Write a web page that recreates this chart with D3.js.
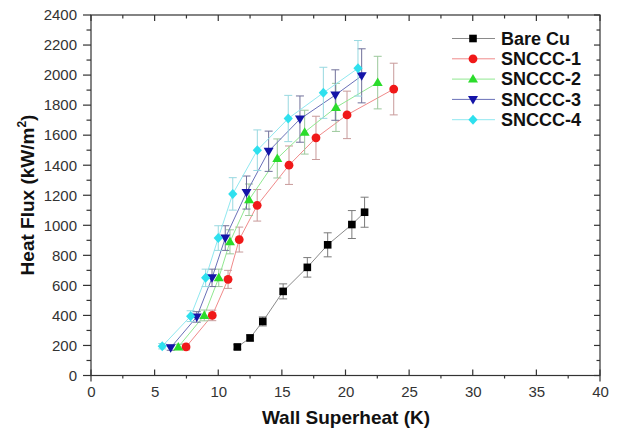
<!DOCTYPE html>
<html><head><meta charset="utf-8">
<script src="https://cdn.jsdelivr.net/npm/d3@7"></script>
<style>body{margin:0;background:#fff;}svg{display:block;}</style>
</head><body>
<svg id="c" width="617" height="430"></svg>
<script>
const seriesNames = ["Bare Cu", "SNCCC-1", "SNCCC-2", "SNCCC-3", "SNCCC-4"];
const bareX = [11.5, 12.5, 13.5, 15.1, 17.0, 18.6, 20.5, 21.5];
const bareY = [190, 250, 360, 560, 720, 870, 1005, 1087];
const bareErr = [15, 20, 30, 50, 65, 80, 93, 100];
const s1X = [7.47, 9.53, 10.77, 11.65, 13.06, 15.56, 17.68, 20.12, 23.79];
const s1Y = [190, 400, 640, 905, 1133, 1400, 1582, 1735, 1907];
const s1Err = [20, 35, 60, 83, 105, 128, 144, 158, 172];
const s2X = [6.86, 8.9, 10.04, 10.92, 12.42, 14.64, 16.79, 19.25, 22.53];
const s2Y = [190, 400, 650, 890, 1170, 1445, 1620, 1785, 1950];
const s2Err = [18, 36, 58, 80, 105, 130, 146, 160, 175];
const s3X = [6.26, 8.31, 9.51, 10.55, 12.22, 13.96, 16.42, 19.2, 21.27];
const s3Y = [185, 390, 650, 915, 1218, 1493, 1707, 1867, 1995];
const s3Err = [17, 35, 58, 82, 110, 134, 154, 168, 180];
const s4X = [5.6, 7.83, 9.01, 10.0, 11.14, 13.07, 15.5, 18.26, 20.98];
const s4Y = [195, 395, 650, 915, 1209, 1500, 1711, 1882, 2045];
const s4Err = [18, 36, 58, 82, 108, 135, 154, 170, 185];
const xTicks = [0, 5, 10, 15, 20, 25, 30, 35, 40];
const yTicks = [0, 200, 400, 600, 800, 1000, 1200, 1400, 1600, 1800, 2000, 2200, 2400];

const markerColors = ["#000000", "#f01818", "#2bdc2b", "#1414a8", "#2ee0ee"];
const lineColors = ["#8a8a8a", "#f08a8a", "#90e890", "#6a70b8", "#90e8f0"];
const errColors = ["#7a7a7a", "#c89a9a", "#9cc89c", "#70709a", "#98d8e0"];
const shapes = ["square", "circle", "triangle", "down", "diamond"];

const allSeries = [
  {x: bareX, y: bareY, e: bareErr},
  {x: s1X, y: s1Y, e: s1Err},
  {x: s2X, y: s2Y, e: s2Err},
  {x: s3X, y: s3Y, e: s3Err},
  {x: s4X, y: s4Y, e: s4Err}
];

const svg = d3.select("#c");
const L = 91, R = 600, T = 15, B = 375.5;
const x = d3.scaleLinear().domain([0, 40]).range([L, R]);
const y = d3.scaleLinear().domain([0, 2400]).range([B, T]);
const font = "'Liberation Sans', Arial, sans-serif";

// frame
const ax = svg.append("g").attr("stroke", "#333").attr("stroke-width", 1.2).attr("fill", "none");
ax.append("rect").attr("x", L).attr("y", T).attr("width", R - L).attr("height", B - T);

const xMinor = d3.range(0, 40.01, 2.5);
xMinor.forEach(v => {
  const major = v % 5 === 0;
  const px = x(v);
  if (major) {
    ax.append("line").attr("x1", px).attr("x2", px).attr("y1", B).attr("y2", B - 6);
    ax.append("line").attr("x1", px).attr("x2", px).attr("y1", T).attr("y2", T + 6);
  } else {
    ax.append("line").attr("x1", px).attr("x2", px).attr("y1", B).attr("y2", B + 3);
    ax.append("line").attr("x1", px).attr("x2", px).attr("y1", T).attr("y2", T + 3.5);
  }
});
ax.append("line").attr("x1", L).attr("x2", L).attr("y1", B).attr("y2", B + 6);
ax.append("line").attr("x1", R).attr("x2", R).attr("y1", B).attr("y2", B + 6);

const yMinor = d3.range(0, 2401, 100);
yMinor.forEach(v => {
  const major = v % 200 === 0;
  const py = y(v);
  ax.append("line").attr("x1", L).attr("x2", L - (major ? 8 : 4.5)).attr("y1", py).attr("y2", py);
  ax.append("line").attr("x1", R).attr("x2", R - (major ? 6 : 3.5)).attr("y1", py).attr("y2", py);
});

const xAxis = d3.axisBottom(x).tickValues(xTicks).tickSize(0).tickPadding(11).tickFormat(d3.format("d"));
const gx = svg.append("g").attr("transform", `translate(0,${B})`).call(xAxis);
gx.select(".domain").remove();
gx.selectAll("text").attr("font-family", font).attr("font-size", 15).attr("fill", "#333");

const yAxis = d3.axisLeft(y).tickValues(yTicks).tickSize(0).tickPadding(14).tickFormat(d3.format("d"));
const gy = svg.append("g").attr("transform", `translate(${L},0)`).call(yAxis);
gy.select(".domain").remove();
gy.selectAll("text").attr("font-family", font).attr("font-size", 15).attr("fill", "#333");

svg.append("text").attr("x", 346).attr("y", 424).attr("text-anchor", "middle")
  .attr("font-family", font).attr("font-weight", "bold").attr("font-size", 19).attr("fill", "#111")
  .text("Wall Superheat (K)");
const yt = svg.append("text").attr("transform", "translate(34,195) rotate(-90)").attr("text-anchor", "middle")
  .attr("font-family", font).attr("font-weight", "bold").attr("font-size", 19).attr("fill", "#111");
yt.append("tspan").text("Heat Flux (kW/m");
yt.append("tspan").attr("font-size", 12).attr("dy", -8).text("2");
yt.append("tspan").attr("dy", 8).text(")");

function drawMarker(g, shape, cx, cy, color) {
  if (shape === "square") {
    g.append("rect").attr("x", cx - 3.8).attr("y", cy - 3.8).attr("width", 7.6).attr("height", 7.6).attr("fill", color);
  } else if (shape === "circle") {
    g.append("circle").attr("cx", cx).attr("cy", cy).attr("r", 4.4).attr("fill", color);
  } else if (shape === "triangle") {
    g.append("path").attr("d", `M${cx},${cy - 5} L${cx + 5},${cy + 3.5} L${cx - 5},${cy + 3.5} Z`).attr("fill", color);
  } else if (shape === "down") {
    g.append("path").attr("d", `M${cx},${cy + 5} L${cx + 5},${cy - 3.5} L${cx - 5},${cy - 3.5} Z`).attr("fill", color);
  } else {
    g.append("path").attr("d", `M${cx},${cy - 5} L${cx + 4.6},${cy} L${cx},${cy + 5} L${cx - 4.6},${cy} Z`).attr("fill", color);
  }
}

const line = d3.line();
const order = [0, 1, 2, 3, 4];
order.forEach(i => {
  const s = allSeries[i];
  const pts = s.x.map((v, k) => [x(v), y(s.y[k])]);
  svg.append("path").attr("d", line(pts)).attr("fill", "none").attr("stroke", lineColors[i]).attr("stroke-width", 1);
  const eg = svg.append("g").attr("stroke", errColors[i]).attr("stroke-width", 1);
  s.x.forEach((v, k) => {
    const px = x(v), y1 = y(s.y[k] + s.e[k]), y2 = y(s.y[k] - s.e[k]);
    eg.append("line").attr("x1", px).attr("x2", px).attr("y1", y1).attr("y2", y2);
    eg.append("line").attr("x1", px - 4).attr("x2", px + 4).attr("y1", y1).attr("y2", y1);
    eg.append("line").attr("x1", px - 4).attr("x2", px + 4).attr("y1", y2).attr("y2", y2);
  });
});
order.forEach(i => {
  const s = allSeries[i];
  const g = svg.append("g");
  s.x.forEach((v, k) => drawMarker(g, shapes[i], x(v), y(s.y[k]), markerColors[i]));
});

const lg = svg.append("g");
seriesNames.forEach((name, i) => {
  const cy = 38.5 + i * 20.3;
  lg.append("line").attr("x1", 452).attr("x2", 495).attr("y1", cy).attr("y2", cy)
    .attr("stroke", lineColors[i]).attr("stroke-width", 1);
  drawMarker(lg, shapes[i], 473, cy, markerColors[i]);
  lg.append("text").attr("x", 501).attr("y", cy + 6.3).attr("font-family", font).attr("font-weight", "bold")
    .attr("font-size", 18).attr("fill", "#111").text(name);
});
</script>
</body></html>
